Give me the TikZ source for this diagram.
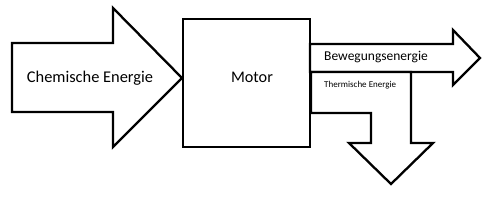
\documentclass[tikz,border=0pt]{standalone}
\usepackage{fontspec}
\setmainfont{Carlito}
\begin{document}
\begin{tikzpicture}[x=1pt,y=-1pt,
  outl/.style={draw=black,line width=2.3pt,fill=white,line join=miter},
  lbl/.style={inner sep=0pt,text=black}]
\useasboundingbox (0,0) rectangle (497,201);
% left arrow
\draw[outl] (12,43) -- (113,43) -- (113,8) -- (182,78) -- (113,147) -- (113,112) -- (12,112) -- cycle;
% motor box
\draw[outl] (183,19) rectangle (310,147);
% right arrow
\draw[outl] (310,44) -- (453,44) -- (453,30) -- (480,58) -- (453,85) -- (453,72) -- (310,72) -- cycle;
% thermal bent arrow
\draw[outl] (311,72) -- (411,72) -- (411,143) -- (433,143) -- (391,184) -- (349,143) -- (371,143) -- (371,113) -- (311,113) -- cycle;
\node[lbl,font=\fontsize{16.4}{18}\selectfont] (chem) at (90,78) {Chemische Energie};
\node[lbl,font=\fontsize{16.2}{18}\selectfont] (motor) at (252,77) {Motor};
\node[lbl,font=\fontsize{13.5}{15}\selectfont,anchor=west] (beweg) at (324,57) {Bewegungsenergie};
\node[lbl,font=\fontsize{9}{10}\selectfont,anchor=west] (therm) at (324,85) {Thermische Energie};
\end{tikzpicture}
\end{document}
